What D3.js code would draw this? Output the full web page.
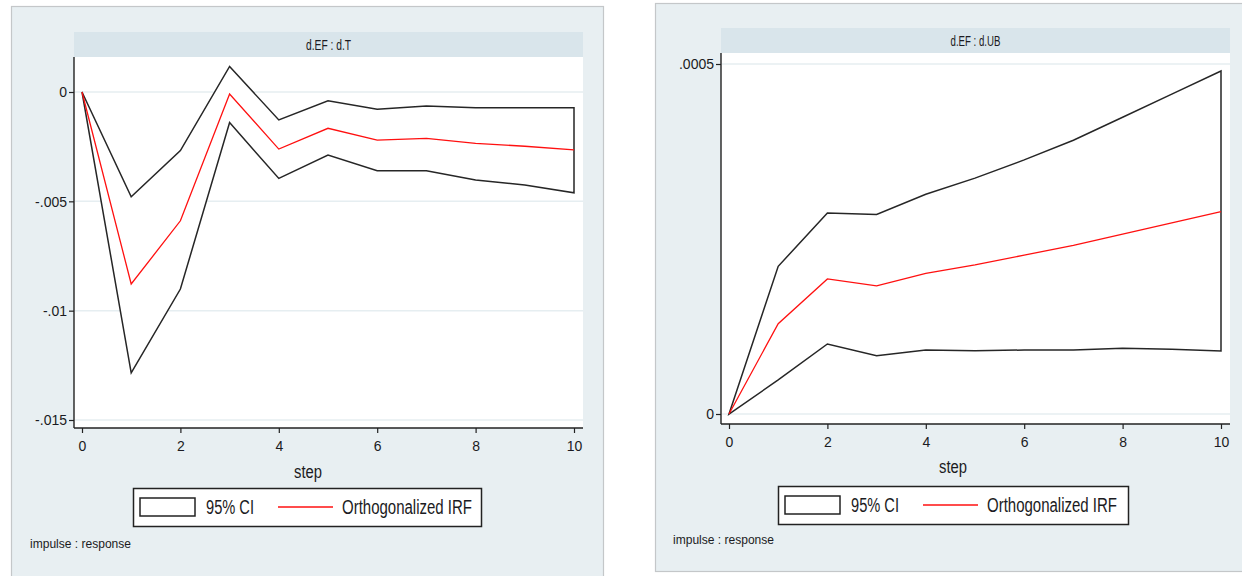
<!DOCTYPE html>
<html>
<head>
<meta charset="utf-8">
<script src="https://cdn.jsdelivr.net/npm/d3@7"></script>
<style>
  html, body { margin: 0; padding: 0; background: #ffffff; }
  svg { display: block; }
  text { font-family: "Liberation Sans", Arial, sans-serif; fill: #1b1b22; }
</style>
</head>
<body>
<svg id="chart" width="1242" height="576"></svg>
<script>
// Impulse-response steps
const steps = [0, 1, 2, 3, 4, 5, 6, 7, 8, 9, 10];
const stepTicks = [0, 2, 4, 6, 8, 10];

// d.EF : d.T
const irfT   = [0, -0.00878, -0.00589, -0.00009, -0.00261, -0.00166, -0.00220, -0.00212, -0.00235, -0.00248, -0.00265];
const upperT = [0, -0.00479, -0.00268,  0.00117, -0.00128, -0.00040, -0.00079, -0.00064, -0.00072, -0.00072, -0.00072];
const lowerT = [0, -0.01284, -0.00901, -0.00140, -0.00395, -0.00288, -0.00360, -0.00360, -0.00402, -0.00425, -0.00461];
const yTicksT = [0, -0.005, -0.01, -0.015];

// d.EF : d.UB
const irfUB   = [0, 0.000129, 0.000193, 0.000183, 0.000201, 0.000213, 0.000227, 0.000241, 0.000257, 0.000273, 0.000289];
const upperUB = [0, 0.000211, 0.000287, 0.000285, 0.000314, 0.000337, 0.000363, 0.000391, 0.000424, 0.000457, 0.000490];
const lowerUB = [0, 0.0000486, 0.000100, 0.0000833, 0.0000914, 0.0000904, 0.0000914, 0.0000914, 0.0000939, 0.0000924, 0.0000900];
const yTicksUB = [0, 0.0005];

const legendLabels = ["95% CI", "Orthogonalized IRF"];
const noteText = "impulse : response";

const svg = d3.select("#chart");

// Stata-style number labels: drop the leading zero (".005", "-.01")
const stataFmt = d => d === 0 ? "0" : String(+d.toPrecision(6)).replace("0.", ".");

// condensed text: squeeze the glyphs into a given width
function narrow(sel, width) {
  return sel.attr("textLength", width).attr("lengthAdjust", "spacingAndGlyphs");
}

function drawPanel(cfg) {
  const g = svg.append("g");

  // panel background
  g.append("rect")
    .attr("x", cfg.outer[0] + 0.5).attr("y", cfg.outer[1] + 0.5)
    .attr("width", cfg.outer[2]).attr("height", cfg.outer[3])
    .attr("fill", "#e8eff2").attr("stroke", "#c4c7c9").attr("stroke-width", 1.2);

  const L = cfg.plot.left, R = cfg.plot.right, T = cfg.plot.top, B = cfg.plot.bottom;

  // subtitle strip
  g.append("rect")
    .attr("x", L).attr("y", cfg.titleTop)
    .attr("width", R - L).attr("height", T - cfg.titleTop)
    .attr("fill", "#d9e5eb");
  narrow(g.append("text")
    .attr("x", (L + R) / 2 - cfg.titleW / 2).attr("y", (cfg.titleTop + T) / 2 + 5)
    .attr("font-size", 15)
    .text(cfg.title), cfg.titleW);

  // plot region
  g.append("rect")
    .attr("x", L).attr("y", T).attr("width", R - L).attr("height", B - T)
    .attr("fill", "#ffffff");

  const x = d3.scaleLinear().domain([0, 10]).range([cfg.x0, cfg.x10]);
  const y = d3.scaleLinear().domain(cfg.yDomain).range(cfg.yRange);

  // horizontal grid lines
  g.append("g").selectAll("line").data(cfg.yTicks).join("line")
    .attr("x1", L + 1).attr("x2", R)
    .attr("y1", d => y(d)).attr("y2", d => y(d))
    .attr("stroke", "#e6eef1").attr("stroke-width", 1.5);

  // confidence band outline, closed as an area
  const band = steps.map((s, i) => [x(s), y(cfg.upper[i])])
    .concat(steps.slice().reverse().map((s, j) => {
      const i = steps.length - 1 - j;
      return [x(s), y(cfg.lower[i])];
    }));
  g.append("path")
    .attr("d", d3.line()(band) + "Z")
    .attr("fill", "#ffffff").attr("stroke", "#262626")
    .attr("stroke-width", 1.5).attr("stroke-linejoin", "miter");

  // orthogonalized IRF
  g.append("path")
    .datum(cfg.irf)
    .attr("d", d3.line().x((d, i) => x(steps[i])).y(d => y(d)))
    .attr("fill", "none").attr("stroke", "#ff1010").attr("stroke-width", 1.3);

  // y axis
  const yAxis = g.append("g").attr("transform", `translate(${L},0)`)
    .call(d3.axisLeft(y).tickValues(cfg.yTicks).tickFormat(stataFmt).tickSize(5).tickPadding(2));
  yAxis.select(".domain").attr("d", `M0,${T}V${B}`).attr("stroke", "#222").attr("stroke-width", 1.4);
  yAxis.selectAll(".tick line").attr("stroke", "#222").attr("stroke-width", 1.2);
  yAxis.selectAll(".tick text").attr("font-size", 14).attr("fill", "#1b1b22")
    .attr("font-family", null).attr("dy", "0.35em");

  // x axis
  const xAxis = g.append("g").attr("transform", `translate(0,${B})`)
    .call(d3.axisBottom(x).tickValues(stepTicks).tickFormat(d3.format("d")).tickSize(5).tickPadding(8));
  xAxis.select(".domain").attr("d", `M${L},0H${R}`).attr("stroke", "#222").attr("stroke-width", 1.4);
  xAxis.selectAll(".tick line").attr("stroke", "#222").attr("stroke-width", 1.2);
  xAxis.selectAll(".tick text").attr("font-size", 14).attr("fill", "#1b1b22").attr("font-family", null);

  // axis title
  narrow(g.append("text")
    .attr("x", cfg.stepX - 14).attr("y", cfg.stepY)
    .attr("font-size", 18)
    .text("step"), 28);

  // legend
  const lg = cfg.legend;
  const leg = g.append("g").attr("transform", `translate(${lg.x},${lg.y})`);
  leg.append("rect").attr("x", 0.5).attr("y", 0.5).attr("width", lg.w).attr("height", lg.h)
    .attr("fill", "#ffffff").attr("stroke", "#222").attr("stroke-width", 1.5);
  leg.append("rect").attr("x", 7).attr("y", 10).attr("width", lg.sw).attr("height", lg.h - 20)
    .attr("fill", "#ffffff").attr("stroke", "#222").attr("stroke-width", 1.5);
  narrow(leg.append("text").attr("x", lg.t1).attr("y", lg.h / 2 + 7).attr("font-size", 20)
    .text(legendLabels[0]), lg.w1);
  leg.append("line").attr("x1", lg.l1).attr("x2", lg.l1 + lg.sw).attr("y1", lg.h / 2).attr("y2", lg.h / 2)
    .attr("stroke", "#ff1010").attr("stroke-width", 1.5);
  narrow(leg.append("text").attr("x", lg.t2).attr("y", lg.h / 2 + 7).attr("font-size", 20)
    .text(legendLabels[1]), lg.w2);

  // note
  narrow(g.append("text").attr("x", cfg.noteX).attr("y", cfg.noteY)
    .attr("font-size", 13).text(noteText), 101);
}

drawPanel({
  outer: [11, 6, 592, 574],
  titleTop: 32,
  plot: { left: 74, right: 583, top: 57, bottom: 428 },
  title: "d.EF : d.T", titleW: 45,
  x0: 82, x10: 574,
  yDomain: [0, -0.015], yRange: [92, 420],
  yTicks: yTicksT,
  irf: irfT, upper: upperT, lower: lowerT,
  stepX: 308, stepY: 478,
  legend: { x: 133, y: 488, w: 348, h: 38, sw: 55, t1: 73, w1: 48, l1: 145, t2: 209, w2: 130 },
  noteX: 30, noteY: 548
});

drawPanel({
  outer: [655, 3, 590, 568],
  titleTop: 28,
  plot: { left: 721, right: 1230, top: 53, bottom: 424 },
  title: "d.EF : d.UB", titleW: 50,
  x0: 729, x10: 1221,
  yDomain: [0, 0.0005], yRange: [414, 64],
  yTicks: yTicksUB,
  irf: irfUB, upper: upperUB, lower: lowerUB,
  stepX: 953, stepY: 473,
  legend: { x: 778, y: 486, w: 350, h: 38, sw: 55, t1: 73, w1: 48, l1: 145, t2: 209, w2: 130 },
  noteX: 673, noteY: 544
});
</script>
</body>
</html>
